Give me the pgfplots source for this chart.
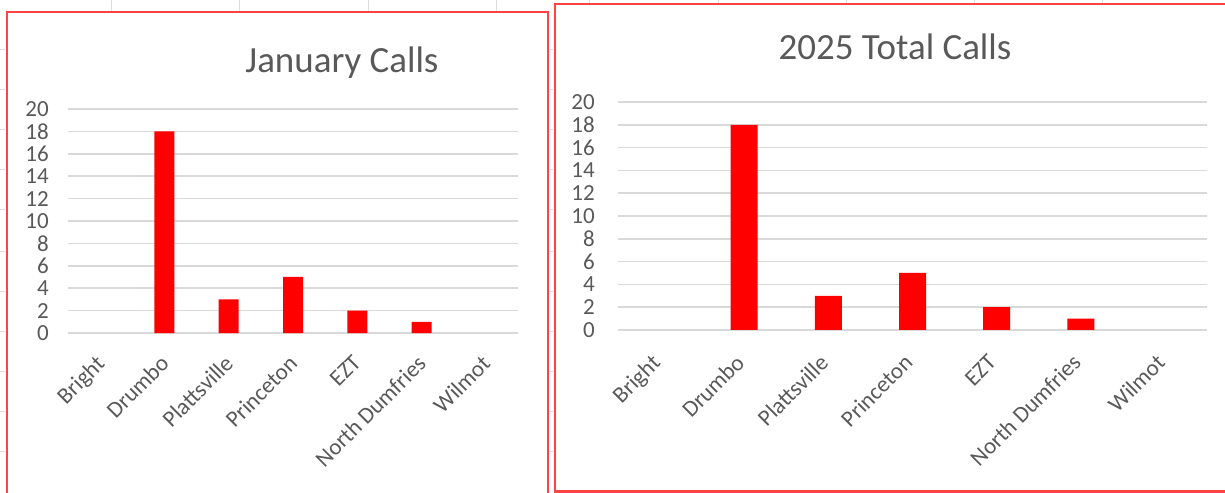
\documentclass[border=0pt]{standalone}
\usepackage{pgfplots}
\usepackage{pgfplotstable}
\pgfplotsset{compat=1.18}
\usepackage{fontspec}
\setmainfont{Carlito}

\definecolor{txtgray}{HTML}{595959}
\definecolor{gridgray}{HTML}{D9D9D9}
\definecolor{framered}{HTML}{FF4343}
\definecolor{cellgray}{HTML}{DCDCDC}

% calls per area
\pgfplotstableread{
idx calls
0 0
1 18
2 3
3 5
4 2
5 1
6 0
}\janCalls
\pgfplotstableread{
idx calls
0 0
1 18
2 3
3 5
4 2
5 1
6 0
}\totalCalls

\pgfplotsset{
  callchart/.style={
    scale only axis, ybar,
    ymin=0, ymax=20, ytick={0,2,...,20},
    xmin=-0.5, xmax=6.5, xtick={0,...,6},
    xticklabels={Bright,Drumbo,Plattsville,Princeton,EZT,North Dumfries,Wilmot},
    axis line style={draw=none}, major tick length=0pt,
    ymajorgrids, grid style={gridgray, line width=1.5bp},
    tick label style={font=\fontsize{23.1}{26}\selectfont, text=txtgray},
    /pgf/number format/assume math mode=true,
    xticklabel style={rotate=45, anchor=north east, inner sep=0pt},
    yticklabel style={anchor=east, inner sep=0pt},
    % empty areas get no bar at all
    unbounded coords=discard,
    y filter/.expression={y==0 ? nan : y},
  }
}

\begin{document}
\begin{tikzpicture}
\useasboundingbox (0,0) rectangle (1225bp,493bp);

% spreadsheet cell lines behind the charts
\foreach \x in {111,239,368,496} \draw[cellgray, line width=1bp] (\x bp,493bp) -- (\x bp,481bp);
\foreach \x in {589,718,846,974,1102} \draw[cellgray, line width=1bp] (\x bp,493bp) -- (\x bp,488bp);
\foreach \y in {50,90,130,170,210,252,292,332,372,412,452} {
  \draw[cellgray, line width=1bp] (0bp,493bp-\y bp) -- (5bp,493bp-\y bp);
  \draw[cellgray, line width=1bp] (549.5bp,493bp-\y bp) -- (552.5bp,493bp-\y bp);
}

% chart frames
\draw[framered, line width=2bp] (7bp,-5bp) -- (7bp,481bp) -- (547.5bp,481bp) -- (547.5bp,-5bp);
\draw[framered, line width=2bp] (1230bp,488.5bp) -- (554.5bp,488.5bp) -- (554.5bp,1.5bp) -- (1230bp,1.5bp);

\begin{axis}[callchart, at={(68bp,160bp)}, anchor=south west,
  width=450bp, height=224bp, bar width=20bp,
  yticklabel style={xshift=-19bp},
  xticklabel style={xshift=-18.6bp, yshift=-10.7bp}]
\addplot[fill=red, draw=none] table[x=idx, y=calls]{\janCalls};
\end{axis}
\node[anchor=base, font=\fontsize{37.1}{40}\selectfont, text=txtgray] at (342bp,420bp) {January Calls};

\begin{axis}[callchart, at={(618bp,163bp)}, anchor=south west,
  width=589bp, height=228bp, bar width=27bp,
  yticklabel style={xshift=-23bp},
  xticklabel style={xshift=-23.2bp, yshift=-9.2bp}]
\addplot[fill=red, draw=none] table[x=idx, y=calls]{\totalCalls};
\end{axis}
\node[anchor=base, font=\fontsize{37.1}{40}\selectfont, text=txtgray] at (895bp,433bp) {2025 Total Calls};
\end{tikzpicture}
\end{document}
